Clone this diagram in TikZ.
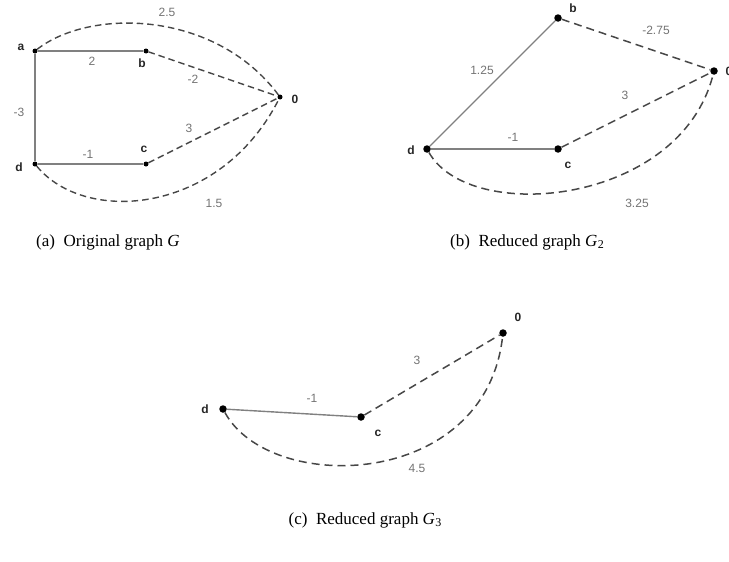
\documentclass[tikz,border=0pt]{standalone}
\usepackage{fontspec}
\setmainfont{Liberation Serif}
\newfontfamily\gfont{Liberation Sans}
\tikzset{
  dotA/.style={circle,fill=black,inner sep=0pt,minimum size=5pt},
  dotB/.style={circle,fill=black,inner sep=0pt,minimum size=7.5pt},
  vlab/.style={font=\gfont\bfseries\fontsize{12}{14}\selectfont,text=black!85,inner sep=0pt},
  elab/.style={font=\gfont\fontsize{12}{14}\selectfont,text=black!55,inner sep=0pt},
  solidedge/.style={draw=black!50,line width=1.4pt},
  dashA/.style={draw=black!72,line width=1.4pt,dash pattern=on 6.5pt off 4pt},
  dashB/.style={draw=black!72,line width=1.5pt,dash pattern=on 8pt off 5pt},
  captext/.style={font=\fontsize{17}{20}\selectfont,inner sep=0pt}
}
\newcommand{\subtwo}[1]{\kern0.3pt\raisebox{-0.35ex}{\fontsize{12}{12}\selectfont #1}}
\begin{document}
\begin{tikzpicture}[x=1pt,y=-1pt]
\useasboundingbox (0,0) rectangle (729,562);
% ---------- (a) ----------
\node[dotA] (aA) at (35,51) {};
\node[dotA] (bA) at (146,51) {};
\node[dotA] (oA) at (280,97) {};
\node[dotA] (cA) at (146,164) {};
\node[dotA] (dA) at (35,164) {};
\draw[solidedge] (aA) -- (bA);
\draw[solidedge] (aA) -- (dA);
\draw[solidedge] (dA) -- (cA);
\draw[dashA] (bA) -- (oA);
\draw[dashA] (cA) -- (oA);
\draw[dashA] (aA) .. controls (90,8) and (215,10) .. (oA);
\draw[dashA] (dA) .. controls (85,225) and (220,215) .. (oA);
\node[vlab] (laA) at (21,47) {a};
\node[vlab] (lbA) at (142,63) {b};
\node[vlab] (loA) at (295,99) {0};
\node[vlab] (lcA) at (144,149) {c};
\node[vlab] (ldA) at (19,167) {d};
\node[elab] (e1A) at (92,61) {2};
\node[elab] (e2A) at (193,79) {-2};
\node[elab] (e3A) at (19,112) {-3};
\node[elab] (e4A) at (88,154) {-1};
\node[elab] (e5A) at (189,128) {3};
\node[elab] (e6A) at (167,12) {2.5};
\node[elab] (e7A) at (214,203) {1.5};
\node[captext] (capA) at (108,242) {(a)\enspace Original graph \textit{G}};
% ---------- (b) ----------
\node[dotB] (bB) at (558,18) {};
\node[dotB] (oB) at (714,71) {};
\node[dotB] (cB) at (558,149) {};
\node[dotB] (dB) at (427,149) {};
\draw[solidedge] (dB) -- (bB);
\draw[solidedge] (dB) -- (cB);
\draw[dashB] (bB) -- (oB);
\draw[dashB] (cB) -- (oB);
\draw[dashB] (dB) .. controls (470,225) and (680,205) .. (oB);
\node[vlab] (lbB) at (573,8) {b};
\node[vlab] (loB) at (729,71) {0};
\node[vlab] (lcB) at (568,165) {c};
\node[vlab] (ldB) at (411,150) {d};
\node[elab] (e1B) at (656,30) {-2.75};
\node[elab] (e2B) at (482,70) {1.25};
\node[elab] (e3B) at (625,95) {3};
\node[elab] (e4B) at (513,137) {-1};
\node[elab] (e5B) at (637,203) {3.25};
\node[captext] (capB) at (527,242) {(b)\enspace Reduced graph \textit{G}\subtwo{2}};
% ---------- (c) ----------
\node[dotB] (oC) at (503,333) {};
\node[dotB] (cC) at (361,417) {};
\node[dotB] (dC) at (223,409) {};
\draw[solidedge] (dC) -- (cC);
\draw[dashB] (cC) -- (oC);
\draw[dashB] (dC) .. controls (270,495) and (485,490) .. (oC);
\node[vlab] (loC) at (518,317) {0};
\node[vlab] (lcC) at (378,433) {c};
\node[vlab] (ldC) at (205,409) {d};
\node[elab] (e1C) at (417,360) {3};
\node[elab] (e2C) at (312,398) {-1};
\node[elab] (e3C) at (417,468) {4.5};
\node[captext] (capC) at (365,520) {(c)\enspace Reduced graph \textit{G}\subtwo{3}};
\end{tikzpicture}
\end{document}
